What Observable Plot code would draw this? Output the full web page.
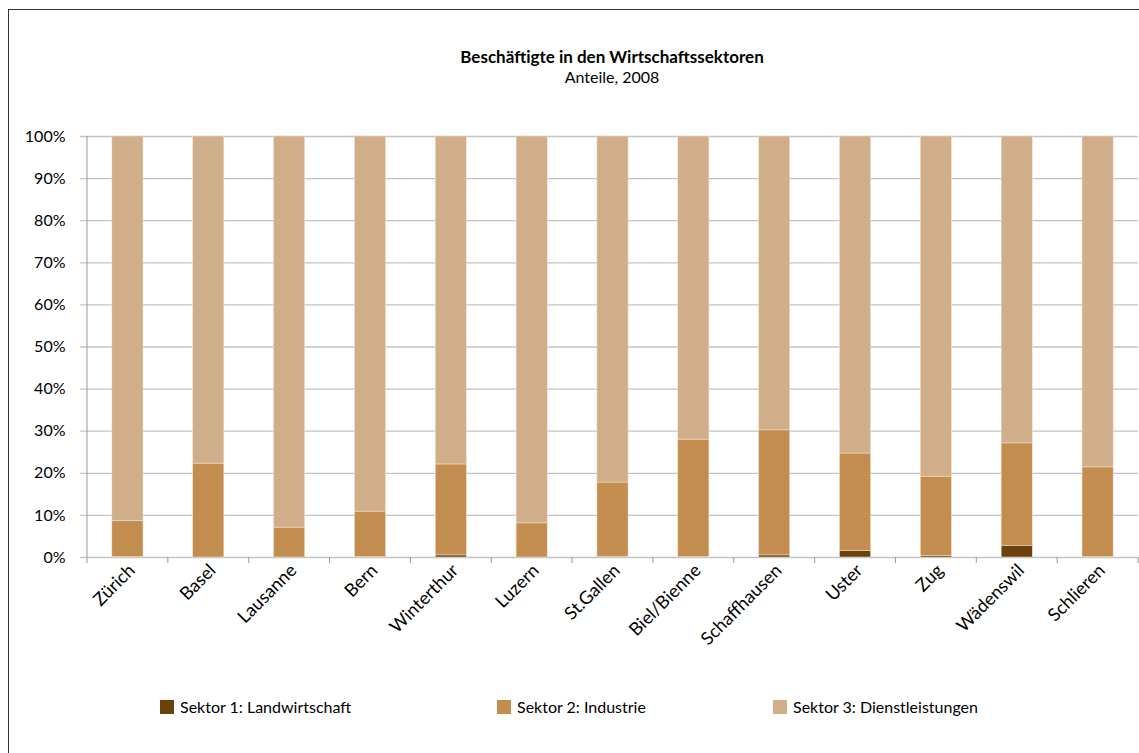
<!DOCTYPE html>
<html>
<head>
<meta charset="utf-8">
<script src="https://cdn.jsdelivr.net/npm/d3@7"></script>
<script src="https://cdn.jsdelivr.net/npm/@observablehq/plot@0.6"></script>
<style>
  html, body { margin: 0; padding: 0; background: #fff; overflow: hidden; width: 1139px; height: 753px; }
  #wrap { position: relative; width: 1139px; height: 753px; font-family: Lato, "DejaVu Sans", sans-serif; color: #000; }
  #frame { position: absolute; left: 8px; top: 9px; width: 1300px; height: 900px; border-left: 1.5px solid #333; border-top: 1.5px solid #333; }
  #title { position: absolute; left: 87px; width: 1050px; top: 46px; text-align: center; font-weight: bold; font-size: 17px; }
  #subtitle { position: absolute; left: 87px; width: 1050px; top: 67px; text-align: center; font-size: 16px; }
  #chart { position: absolute; left: 0; top: 0; }
  #legend { position: absolute; top: 697px; left: 0; width: 1139px; font-size: 16px; }
  .li { position: absolute; display: flex; align-items: center; }
  .sw { width: 14px; height: 14px; margin-right: 6px; }
</style>
</head>
<body>
<div id="wrap">
  <div id="frame"></div>
  <div id="title">Beschäftigte in den Wirtschaftssektoren</div>
  <div id="subtitle">Anteile, 2008</div>
  <div id="chart"></div>
  <div id="legend"></div>
</div>
<script>
const cities = ["Zürich","Basel","Lausanne","Bern","Winterthur","Luzern","St.Gallen","Biel/Bienne","Schaffhausen","Uster","Zug","Wädenswil","Schlieren"];
const sectors = ["Sektor 1: Landwirtschaft","Sektor 2: Industrie","Sektor 3: Dienstleistungen"];
const colors = ["#6b420e","#c48d50","#d0ae8a"];
const sektor1 = [0.1, 0.0, 0.0, 0.1, 0.5, 0.0, 0.2, 0.1, 0.5, 1.6, 0.4, 2.8, 0.1];
const sektor2 = [8.5, 22.3, 7.1, 10.8, 21.6, 8.1, 17.6, 27.9, 29.7, 23.1, 18.8, 24.3, 21.3];
const yTicks = [0,10,20,30,40,50,60,70,80,90,100];

const data = [];
cities.forEach((c, i) => {
  data.push({city: c, sector: sectors[0], value: sektor1[i]});
  data.push({city: c, sector: sectors[1], value: sektor2[i]});
  data.push({city: c, sector: sectors[2], value: 100 - sektor1[i] - sektor2[i]});
});

const bandTicks = (index, scales, values, dimensions) => {
  const x = scales.x, y = scales.y;
  const bw = x.bandwidth();
  const step = x(cities[1]) - x(cities[0]);
  const g = d3.create("svg:g");
  const y0 = y(0);
  const pos = cities.map(c => x(c) + bw / 2 - step / 2);
  pos.push(x(cities[cities.length - 1]) + bw / 2 + step / 2);
  pos.forEach(p => {
    g.append("line").attr("x1", p).attr("x2", p).attr("y1", y0).attr("y2", y0 + 6)
      .attr("stroke", "#999").attr("stroke-width", 1);
  });
  g.append("line").attr("x1", pos[0]).attr("x2", pos[0]).attr("y1", y(100)).attr("y2", y0)
    .attr("stroke", "#999").attr("stroke-width", 1);
  return g.node();
};

const chart = Plot.plot({
  width: 1139,
  height: 660,
  marginTop: 136,
  marginBottom: 103,
  marginLeft: 87,
  marginRight: 1,
  style: {fontFamily: "Lato, 'DejaVu Sans', sans-serif", fontSize: "14px", color: "#000", background: "transparent"},
  x: {domain: cities, paddingInner: 0.615, paddingOuter: 0.3075, round: false, label: null},
  y: {domain: [0, 100], label: null},
  color: {domain: sectors, range: colors},
  marks: [
    Plot.ruleY(yTicks, {y: d => d, stroke: "#c4c4c4", strokeWidth: 1.3, strokeOpacity: 1, insetLeft: -7}),
    Plot.barY(data, {x: "city", y: "value", fill: "sector", order: sectors, stroke: "#f3e4d2", strokeWidth: 0.5}),
    Plot.axisY({ticks: yTicks, tickFormat: d => d + "%", tickSize: 0, tickPadding: 22, fontSize: 16}),
    Plot.axisX({tickSize: 0, tickPadding: 10, tickRotate: -45, fontSize: 18, dx: 4}),
    bandTicks
  ]
});
document.getElementById("chart").appendChild(chart);

const legend = document.getElementById("legend");
const lx = [160, 497, 773];
sectors.forEach((s, i) => {
  const d = document.createElement("div");
  d.className = "li";
  d.style.left = lx[i] + "px";
  d.innerHTML = `<div class="sw" style="background:${colors[i]}"></div><span>${s}</span>`;
  legend.appendChild(d);
});
</script>
</body>
</html>
